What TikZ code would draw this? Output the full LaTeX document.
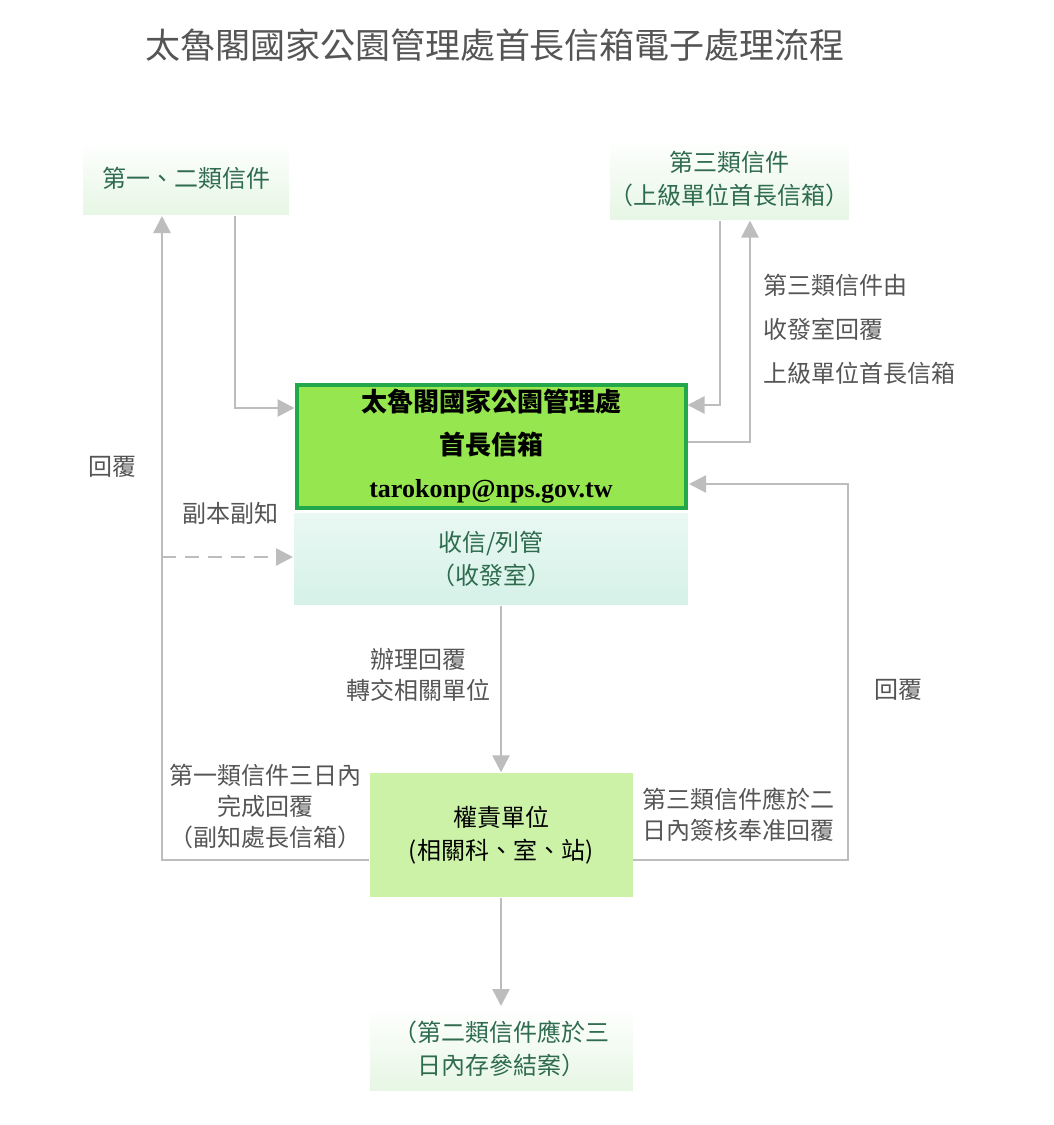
\documentclass[tikz,border=0pt]{standalone}
\usepackage{fontspec}
\setmainfont{Noto Sans CJK TC}
\newfontfamily\mailfont{Liberation Serif}
\usetikzlibrary{arrows.meta,positioning,calc}
\definecolor{linegray}{HTML}{BDBDBD}
\definecolor{textgray}{HTML}{555555}
\definecolor{textgreen}{HTML}{2F6B4E}
\definecolor{palegreen}{HTML}{E6F6E4}
\definecolor{mint}{HTML}{D5F1E8}
\definecolor{mainfill}{HTML}{96E650}
\definecolor{mainedge}{HTML}{22A84A}
\definecolor{unitfill}{HTML}{CCF2A8}
\tikzset{
    >={Triangle[length=17pt,width=17pt]},
    pil/.style={
           ->,
           draw=linegray, line width=2.5pt},
    lapp/.style={
           draw=white, line width=1pt,
           inner sep=0pt,
           align=center,
           text=textgreen,
           font=\fontsize{24pt}{33pt}\selectfont},
    etikett/.style={
           text=textgray,
           align=center,
           font=\fontsize{24pt}{31pt}\selectfont}
}
\begin{document}
\begin{tikzpicture}[x=1pt,y=-1pt]
          \useasboundingbox (0,0) rectangle (1053,1125);
          \fill[white] (0,0) rectangle (1053,1125);
          \node[text=textgray, font=\fontsize{35pt}{38pt}\selectfont] (titel) at (495,45) {太魯閣國家公園管理處首長信箱電子處理流程};
          \node[lapp, top color=white, bottom color=palegreen, minimum width=207pt, minimum height=75pt] (klass12) at (186,178) {第一、二類信件};
          \node[lapp, top color=white, bottom color=palegreen, minimum width=240pt, minimum height=82pt] (klass3) at (729,179) {第三類信件\\（上級單位首長信箱）};
          \node[draw=mainedge, line width=4pt, fill=mainfill, minimum width=389pt, minimum height=123pt, align=center, inner sep=0pt, font=\bfseries\fontsize{26pt}{43pt}\selectfont] (brevlada) at (491,446) {太魯閣國家公園管理處\\首長信箱\\{\mailfont\bfseries tarokonp@nps.gov.tw}};
          \node[lapp, top color=mint!50, bottom color=mint, minimum width=395pt, minimum height=93pt, below=2pt of brevlada] (mottag) {收信/列管\\（收發室）};
          \node[draw=white, fill=unitfill, minimum width=264pt, minimum height=125pt, align=center, inner sep=0pt, font=\fontsize{24pt}{33pt}\selectfont] (enhet) at (501,835) {權責單位\\(相關科、室、站)};
          \node[lapp, top color=white, bottom color=palegreen, minimum width=264pt, minimum height=85pt] (arkiv) at (501,1049) {（第二類信件應於三\\日內存參結案）};
          % hjalppunkter
          \coordinate (v1) at (235,408);
          \coordinate (v2) at (162,860);
          \coordinate (v3) at (162,557);
          \coordinate (h1) at (720,405);
          \coordinate (h2) at (750,442);
          \coordinate (h3) at (848,860);
          \coordinate (h4) at (848,484);
          \draw[pil] (klass12.south -| v1) |- (brevlada.west |- v1);
          \draw[pil] (enhet.west |- v2) -- (v2) -- (klass12.south -| v2);
          \draw[pil, dash pattern=on 14pt off 9pt] (v3) -- (mottag.west |- v3);
          \draw[pil] (klass3.south -| h1) |- (brevlada.east |- h1);
          \draw[pil] (brevlada.east |- h2) -| (klass3.south -| h2);
          \draw[pil] (enhet.east |- h3) -- (h3) -- (h4) -- (mottag.east |- h4);
          \draw[pil] (mottag.south -| enhet.north) -- (enhet.north);
          \draw[pil] (enhet.south) -- (arkiv.north);
          \node[etikett] (svar1) at (112,467) {回覆};
          \node[etikett] (kopia) at (230,513) {副本副知};
          \node[etikett, align=left, anchor=west, font=\fontsize{24pt}{44pt}\selectfont] (svar3) at (760,329) {第三類信件由\\收發室回覆\\上級單位首長信箱};
          \node[etikett] (hantera) at (418,675) {辦理回覆\\轉交相關單位};
          \node[etikett] (svar2) at (898,690) {回覆};
          \node[etikett] (frist1) at (265,806) {第一類信件三日內\\完成回覆\\（副知處長信箱）};
          \node[etikett] (frist3) at (738,815) {第三類信件應於二\\日內簽核奉准回覆};
\end{tikzpicture}
\end{document}
